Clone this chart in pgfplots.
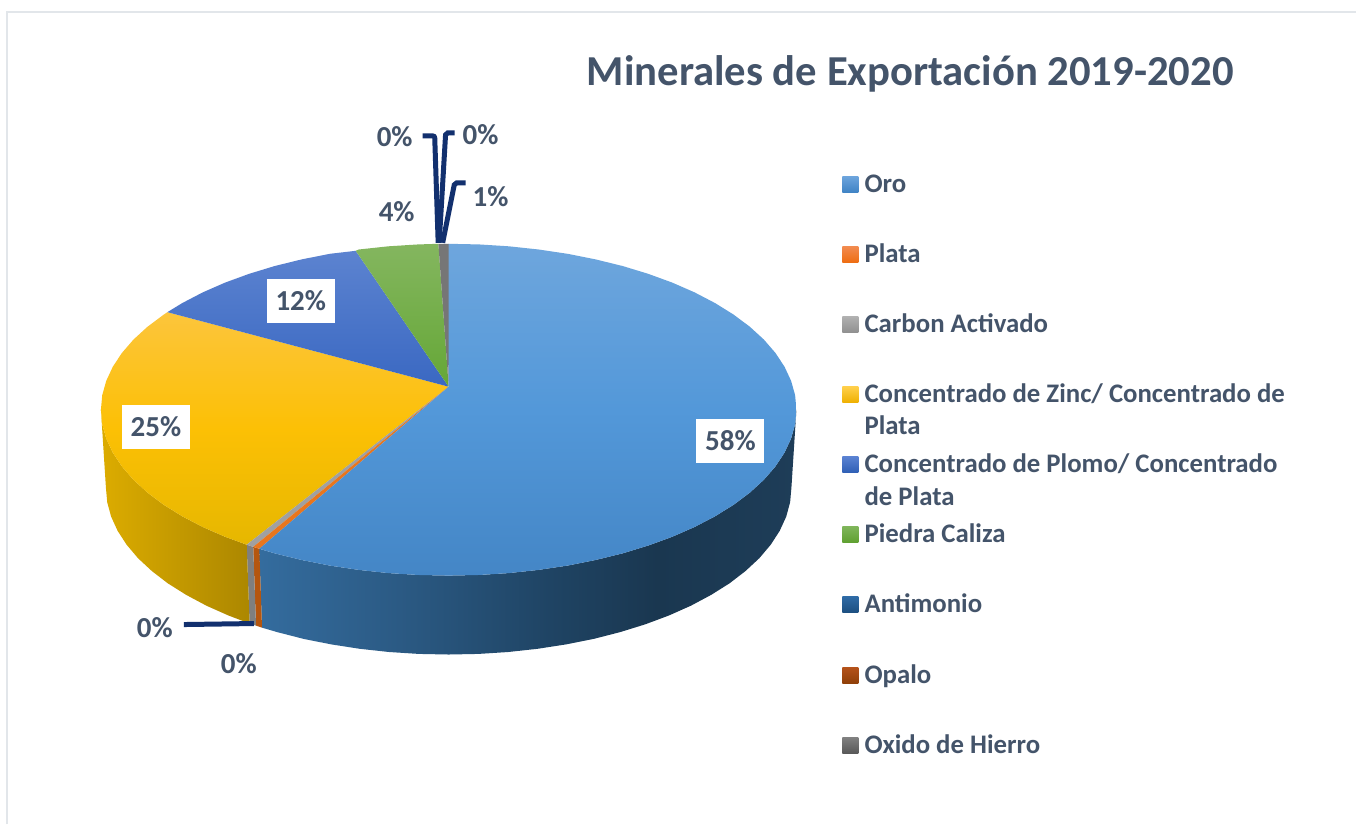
\documentclass[border=0pt]{standalone}
\usepackage{fontspec}
\setmainfont{Carlito}
\usepackage{pgfplots}
\pgfplotsset{compat=1.18}
\definecolor{txt}{HTML}{44546A}
\definecolor{lead}{HTML}{12306E}
\definecolor{frame}{HTML}{E2E6EA}
\definecolor{oa}{HTML}{346C9E}
\definecolor{ob}{HTML}{2B5A84}
\definecolor{oc}{HTML}{1F4464}
\definecolor{od}{HTML}{1A3750}
\definecolor{oe}{HTML}{1E3D58}
\pgfdeclarehorizontalshading{oroside}{100bp}{color(0bp)=(oa);color(25bp)=(oa);color(38bp)=(ob);color(52bp)=(oc);color(62bp)=(od);color(75bp)=(oe);color(100bp)=(oe)}
\tikzset{lbl/.style={font=\fontsize{29}{32}\selectfont\bfseries,text=txt,inner sep=0pt},
 leg/.style={font=\fontsize{26.8}{30}\selectfont\bfseries,text=txt,inner sep=0pt,anchor=base west},
 box/.style={lbl,fill=white,minimum width=68pt,minimum height=44pt},
 ldr/.style={draw=lead,line width=5pt,rounded corners=2pt}}
\newcommand{\swatch}[3]{\addplot[top color=#2,bottom color=#3,draw=none] coordinates {(843,#1-8)(859,#1-8)(859,#1+8)(843,#1+8)} --cycle;}
\begin{document}
\begin{tikzpicture}
\begin{axis}[width=1357pt,height=825pt,scale only axis,xmin=0,xmax=1357,ymin=0,ymax=825,y dir=reverse,axis lines=none,clip=false]
% page background (fixes the picture's extent)
\addplot[fill=white,draw=none] coordinates {(0,0)(1357,0)(1357,825)(0,825)} --cycle;
% frame
\addplot[draw=frame,line width=2pt] coordinates {(7,825)(7,12)(1357,12)};
% side walls
\addplot[shading=oroside,draw=none] coordinates {(797,410)(795.7,424.5)(791.7,438.8)(785.1,453)(776,466.8)(764.4,480.2)(750.4,493)(734.1,505.2)(715.6,516.7)(695.1,527.4)(672.7,537.2)(648.6,546)(623,553.8)(596.1,560.4)(568,566)(539.1,570.3)(509.4,573.5)(479.3,575.4)(449,576)(418.7,575.4)(388.6,573.5)(358.9,570.3)(330,566)(301.9,560.4)(275,553.8)(259.5,549.2)(262.2,628.1)(277.5,632.6)(304,639.4)(331.7,644.9)(360.2,649.3)(389.5,652.5)(419.1,654.4)(449,655)(478.9,654.4)(508.5,652.5)(537.8,649.3)(566.3,644.9)(594,639.4)(620.5,632.6)(645.7,624.8)(669.5,615.9)(691.5,606.1)(711.7,595.3)(730,583.8)(746,571.5)(759.9,558.6)(771.3,545.1)(780.3,531.2)(786.8,517)(790.7,502.6)(792,488)} --cycle;
\addplot[fill={rgb,255:red,181;green,86;blue,15},draw=none] coordinates {(259.5,549.2)(253.4,547.3)(256.2,626.1)(262.2,628.1)} --cycle;
\addplot[fill={rgb,255:red,127;green,127;blue,127},draw=none] coordinates {(253.4,547.3)(246.9,545.1)(249.8,624)(256.2,626.1)} --cycle;
\addplot[left color={rgb,255:red,220;green,172;blue,0},right color={rgb,255:red,172;green,135;blue,0},draw=none] coordinates {(246.9,545.1)(225.3,537.2)(202.9,527.4)(182.4,516.7)(163.9,505.2)(147.6,493)(133.6,480.2)(122,466.8)(112.9,453)(106.3,438.8)(102.3,424.5)(101,410)(106,488)(107.3,502.6)(111.2,517)(117.7,531.2)(126.7,545.1)(138.1,558.6)(152,571.5)(168,583.8)(186.3,595.3)(206.5,606.1)(228.5,615.9)(249.8,624)} --cycle;
% top faces
\addplot[top color={rgb,255:red,252;green,197;blue,60},bottom color={rgb,255:red,230;green,183;blue,0},middle color={rgb,255:red,252;green,192;blue,5},draw=none] coordinates {(449,387)(246.9,545.1)(225.3,537.2)(202.9,527.4)(182.4,516.7)(163.9,505.2)(147.6,493)(133.6,480.2)(122,466.8)(112.9,453)(106.3,438.8)(102.3,424.5)(101,410)(102.3,395.5)(106.3,381.2)(112.9,367)(122,353.2)(133.6,339.8)(147.6,327)(163.9,314.8)(167.5,312.4)} --cycle;
\addplot[top color={rgb,255:red,92;green,131;blue,208},bottom color={rgb,255:red,58;green,104;blue,194},draw=none] coordinates {(449,387)(167.5,312.4)(182.4,303.3)(202.9,292.6)(225.3,282.8)(249.4,274)(275,266.2)(301.9,259.6)(330,254)(356,251)} --cycle;
\addplot[top color={rgb,255:red,132;green,182;blue,95},bottom color={rgb,255:red,101;green,167;blue,54},draw=none] coordinates {(449,387)(356,251)(358.9,249.7)(388.6,246.5)(418.7,244.6)(438.7,244)} --cycle;
\addplot[fill={rgb,255:red,118;green,118;blue,118},draw=none] coordinates {(449,387)(438.7,244)(449.5,244)} --cycle;
\addplot[fill={rgb,255:red,160;green,160;blue,160},draw=none] coordinates {(449,387)(253.4,547.3)(246.9,545.1)} --cycle;
\addplot[fill={rgb,255:red,232;green,118;blue,30},draw=none] coordinates {(449,387)(259.5,549.2)(253.4,547.3)} --cycle;
\addplot[top color={rgb,255:red,110;green,166;blue,221},bottom color={rgb,255:red,68;green,134;blue,198},middle color={rgb,255:red,83;green,152;blue,217},draw=none] coordinates {(449,387)(449,244)(479.3,244.6)(509.4,246.5)(539.1,249.7)(568,254)(596.1,259.6)(623,266.2)(648.6,274)(672.7,282.8)(695.1,292.6)(715.6,303.3)(734.1,314.8)(750.4,327)(764.4,339.8)(776,353.2)(785.1,367)(791.7,381.2)(795.7,395.5)(797,410)(795.7,424.5)(791.7,438.8)(785.1,453)(776,466.8)(764.4,480.2)(750.4,493)(734.1,505.2)(715.6,516.7)(695.1,527.4)(672.7,537.2)(648.6,546)(623,553.8)(596.1,560.4)(568,566)(539.1,570.3)(509.4,573.5)(479.3,575.4)(449,576)(418.7,575.4)(388.6,573.5)(358.9,570.3)(330,566)(301.9,560.4)(275,553.8)(259.5,549.2)} --cycle;
% leader lines
\addplot[ldr] coordinates {(184,625)(254,624)};
\addplot[ldr] coordinates {(423,136)(435,136)(438.5,243)};
\addplot[ldr] coordinates {(455,133)(446,133)(439.5,243)};
\addplot[ldr] coordinates {(466,183)(455,183)(443,243)};
% legend keys
\swatch{185}{{rgb,255:red,107;green,163;blue,220}}{{rgb,255:red,62;green,130;blue,196}}
\swatch{255}{{rgb,255:red,242;green,138;blue,78}}{{rgb,255:red,238;green,108;blue,16}}
\swatch{325}{{rgb,255:red,176;green,176;blue,176}}{{rgb,255:red,143;green,143;blue,143}}
\swatch{395}{{rgb,255:red,255;green,207;blue,74}}{{rgb,255:red,238;green,176;blue,0}}
\swatch{465}{{rgb,255:red,90;green,130;blue,210}}{{rgb,255:red,47;green,95;blue,181}}
\swatch{535}{{rgb,255:red,127;green,181;blue,90}}{{rgb,255:red,95;green,160;blue,48}}
\swatch{605}{{rgb,255:red,47;green,107;blue,166}}{{rgb,255:red,28;green,79;blue,128}}
\swatch{676}{{rgb,255:red,180;green,82;blue,26}}{{rgb,255:red,143;green,63;blue,8}}
\swatch{746}{{rgb,255:red,128;green,128;blue,128}}{{rgb,255:red,88;green,88;blue,88}}
% title
\node[anchor=center,font=\fontsize{42.7}{50}\selectfont\bfseries,text=txt,inner sep=0pt] at (axis cs:911,74) {Minerales de Exportación 2019-2020};
% data labels
\node[box] at (axis cs:731,441) {58\%};
\node[box] at (axis cs:156,427) {25\%};
\node[box] at (axis cs:301,301) {12\%};
\node[lbl] at (axis cs:397,212) {4\%};
\node[lbl] at (axis cs:491,197) {1\%};
\node[lbl] at (axis cs:481,135) {0\%};
\node[lbl] at (axis cs:395,137) {0\%};
\node[lbl] at (axis cs:155,628) {0\%};
\node[lbl] at (axis cs:239,664) {0\%};
% legend text
\node[leg] at (axis cs:865,193) {Oro};
\node[leg] at (axis cs:865,263) {Plata};
\node[leg] at (axis cs:865,333) {Carbon Activado};
\node[leg] at (axis cs:865,403) {Concentrado de Zinc/ Concentrado de};
\node[leg] at (axis cs:865,435) {Plata};
\node[leg] at (axis cs:865,473) {Concentrado de Plomo/ Concentrado};
\node[leg] at (axis cs:865,506) {de Plata};
\node[leg] at (axis cs:865,543) {Piedra Caliza};
\node[leg] at (axis cs:865,613) {Antimonio};
\node[leg] at (axis cs:865,684) {Opalo};
\node[leg] at (axis cs:865,754) {Oxido de Hierro};
\end{axis}
\end{tikzpicture}
\end{document}
